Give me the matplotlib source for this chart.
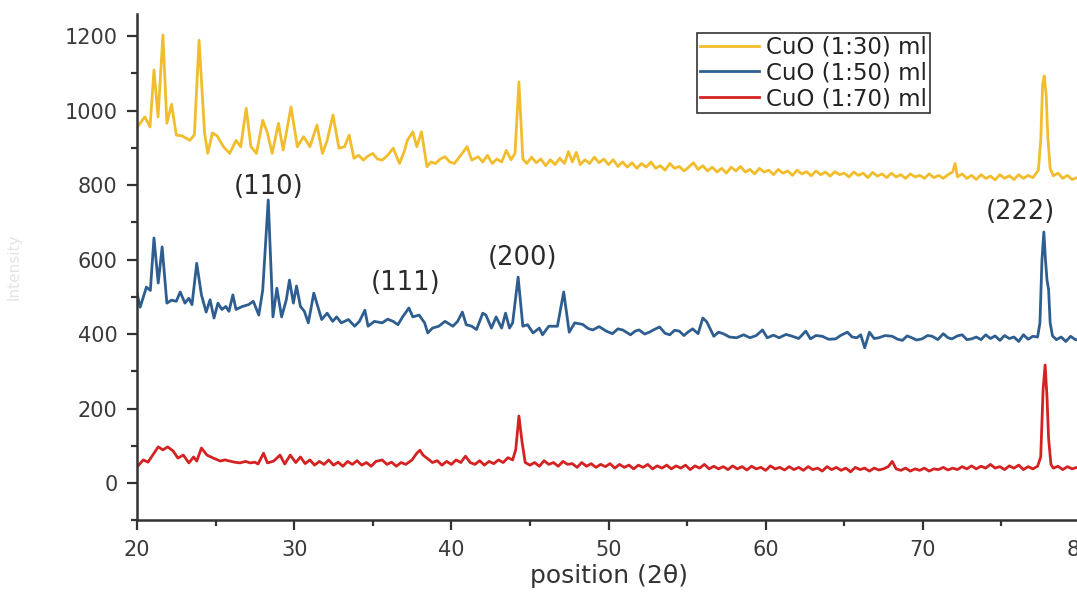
import matplotlib
matplotlib.use("Agg")
import matplotlib.pyplot as plt
from matplotlib.ticker import MultipleLocator

plt.rcParams['font.family'] = ['DejaVu Sans']

# ---------------- data ----------------
x_130 = [20.0, 20.5, 20.83, 21.08, 21.34, 21.65, 21.9, 22.2, 22.5, 22.87, 23.37, 23.65, 23.95, 24.3, 24.5,
         24.8, 25.1, 25.5, 25.9, 26.3, 26.6, 26.95, 27.25, 27.6, 28.0, 28.3, 28.6, 29.0, 29.3, 29.8,
         30.2, 30.6, 31.0, 31.45, 31.8, 32.1, 32.47, 32.85, 33.2, 33.5, 33.8, 34.1, 34.4, 34.7, 35.0,
         35.3, 35.6, 35.95, 36.3, 36.7, 37.0, 37.2, 37.55, 37.8, 38.1, 38.45, 38.7, 39.0, 39.3, 39.6,
         39.9, 40.2, 40.6, 41.0, 41.3, 41.7, 42.0, 42.3, 42.6, 42.9, 43.2, 43.5, 43.8, 44.05, 44.3,
         44.55, 44.8, 45.1, 45.4, 45.7, 46.0, 46.3, 46.6, 46.9, 47.2, 47.45, 47.7, 47.95, 48.2, 48.5,
         48.8, 49.1, 49.4, 49.7, 50.0, 50.3, 50.6, 50.9, 51.2, 51.5, 51.8, 52.1, 52.4, 52.7, 53.0,
         53.3, 53.6, 53.9, 54.2, 54.5, 54.8, 55.1, 55.4, 55.7, 56.0, 56.3, 56.6, 56.9, 57.2, 57.5,
         57.8, 58.1, 58.4, 58.7, 59.0, 59.3, 59.6, 59.9, 60.2, 60.5, 60.8, 61.1, 61.4, 61.7, 62.0,
         62.3, 62.6, 62.9, 63.2, 63.5, 63.8, 64.1, 64.4, 64.7, 65.0, 65.3, 65.6, 65.9, 66.2, 66.5,
         66.8, 67.1, 67.4, 67.7, 68.0, 68.3, 68.6, 68.9, 69.2, 69.5, 69.8, 70.1, 70.4, 70.7, 71.0,
         71.3, 71.6, 71.9, 72.05, 72.2, 72.5, 72.8, 73.1, 73.4, 73.7, 74.0, 74.3, 74.6, 74.9, 75.2,
         75.5, 75.8, 76.1, 76.4, 76.7, 77.0, 77.35, 77.5, 77.62, 77.72, 77.85, 77.95, 78.1, 78.3,
         78.6, 78.9, 79.2, 79.5, 79.8, 80.0]
y_130 = [955, 983, 956, 1109, 983, 1203, 966, 1017, 934, 932, 920, 935, 1189, 940, 885,
         940, 932, 903, 885, 920, 903, 1006, 903, 885, 974, 940, 885, 966, 894, 1010,
         903, 930, 903, 961, 885, 920, 988, 899, 903, 934, 872, 880, 867, 878, 885,
         870, 867, 880, 899, 858, 890, 920, 943, 903, 943, 849, 862, 858, 870, 876,
         862, 858, 880, 903, 867, 876, 862, 880, 858, 870, 862, 893, 868, 885, 1077,
         870, 858, 875, 860, 870, 852, 868, 855, 872, 858, 890, 862, 888, 855, 868,
         858, 875, 860, 870, 855, 868, 850, 862, 848, 860, 845, 858, 848, 862, 845,
         852, 840, 858, 845, 850, 838, 848, 860, 842, 852, 838, 848, 835, 845, 832,
         848, 838, 850, 835, 842, 830, 845, 835, 840, 828, 842, 832, 838, 826, 840,
         830, 836, 825, 838, 828, 835, 824, 836, 828, 832, 822, 835, 826, 832, 820,
         834, 824, 830, 820, 832, 822, 828, 818, 830, 822, 826, 818, 830, 820, 826,
         818, 828, 835, 858, 822, 830, 818, 826, 815, 828, 818, 824, 814, 828, 818,
         825, 815, 828, 818, 826, 820, 840, 920, 1070, 1093, 1040, 930, 845, 825,
         832, 818, 826, 815, 820, 815]

x_150 = [20.0, 20.2, 20.6, 20.85, 21.08, 21.35, 21.6, 21.9, 22.2, 22.5, 22.75, 23.05, 23.3, 23.5, 23.8,
         24.1, 24.4, 24.65, 24.9, 25.15, 25.4, 25.65, 25.85, 26.1, 26.3, 26.7, 27.1, 27.4, 27.75, 28.0,
         28.35, 28.65, 28.9, 29.2, 29.5, 29.7, 29.95, 30.15, 30.4, 30.65, 30.9, 31.25, 31.5, 31.75, 32.1,
         32.45, 32.7, 33.0, 33.45, 33.85, 34.15, 34.5, 34.7, 35.1, 35.6, 35.95, 36.3, 36.6, 36.9, 37.3,
         37.55, 37.95, 38.3, 38.5, 38.8, 39.2, 39.6, 40.1, 40.4, 40.7, 40.95, 41.3, 41.6, 42.0, 42.2,
         42.55, 42.85, 43.2, 43.45, 43.7, 43.9, 44.25, 44.55, 44.85, 45.2, 45.6, 45.8, 46.2, 46.75, 47.15,
         47.5, 47.85, 48.35, 48.7, 49.0, 49.4, 49.85, 50.25, 50.6, 50.9, 51.4, 51.7, 51.95, 52.3, 52.6,
         52.9, 53.25, 53.6, 53.9, 54.2, 54.5, 54.8, 55.05, 55.35, 55.7, 56.0, 56.25, 56.7, 57.0, 57.3,
         57.7, 58.15, 58.6, 59.0, 59.4, 59.8, 60.1, 60.5, 60.85, 61.3, 61.7, 62.1, 62.55, 62.85, 63.2,
         63.6, 64.0, 64.45, 64.8, 65.2, 65.5, 65.8, 66.05, 66.3, 66.6, 66.9, 67.2, 67.6, 68.05, 68.4,
         68.7, 69.0, 69.3, 69.6, 69.95, 70.3, 70.6, 70.95, 71.3, 71.6, 71.85, 72.2, 72.5, 72.8, 73.1,
         73.4, 73.7, 74.0, 74.3, 74.6, 74.9, 75.2, 75.5, 75.8, 76.1, 76.4, 76.7, 77.0, 77.3, 77.45,
         77.58, 77.7, 77.8, 77.9, 78.0, 78.1, 78.25, 78.5, 78.8, 79.1, 79.4, 79.7, 80.0]
y_150 = [510, 472, 526, 517, 658, 537, 634, 483, 491, 488, 513, 483, 496, 479, 590,
         505, 459, 492, 443, 483, 466, 474, 461, 505, 466, 474, 479, 488, 451, 518,
         760, 446, 523, 446, 492, 545, 483, 529, 474, 461, 430, 510, 474, 439, 456,
         434, 446, 430, 439, 421, 434, 464, 421, 434, 430, 440, 434, 425, 446, 470,
         446, 451, 430, 403, 416, 421, 434, 421, 434, 459, 425, 421, 412, 456, 451,
         416, 446, 416, 456, 416, 430, 553, 421, 425, 403, 416, 398, 421, 421, 513,
         405, 430, 426, 415, 411, 420, 408, 401, 414, 411, 398, 408, 411, 400, 405,
         412, 419, 402, 398, 410, 408, 396, 405, 414, 401, 443, 433, 394, 405, 401,
         392, 390, 398, 390, 396, 411, 390, 397, 390, 399, 394, 388, 408, 387, 396,
         394, 386, 387, 397, 405, 392, 390, 398, 363, 405, 388, 390, 396, 394, 386,
         383, 395, 390, 384, 387, 396, 394, 385, 401, 390, 387, 395, 398, 385, 387,
         392, 385, 398, 388, 395, 383, 396, 388, 392, 380, 398, 386, 394, 392, 430,
         600, 674, 600, 545, 520, 430, 395, 385, 392, 380, 394, 385, 384]

x_170 = [20.0, 20.4, 20.7, 21.0, 21.35, 21.65, 21.95, 22.3, 22.6, 22.95, 23.3, 23.6, 23.8, 24.1, 24.45,
         24.85, 25.3, 25.6, 25.9, 26.2, 26.55, 26.9, 27.2, 27.5, 27.7, 28.05, 28.3, 28.7, 29.1, 29.4,
         29.75, 30.1, 30.4, 30.7, 31.0, 31.3, 31.6, 31.9, 32.2, 32.5, 32.8, 33.1, 33.4, 33.7, 34.0,
         34.3, 34.6, 34.9, 35.2, 35.6, 35.9, 36.2, 36.5, 36.8, 37.1, 37.5, 37.8, 38.0, 38.2, 38.5,
         38.8, 39.1, 39.4, 39.7, 40.0, 40.3, 40.6, 40.9, 41.2, 41.5, 41.8, 42.1, 42.4, 42.7, 43.0,
         43.3, 43.6, 43.9, 44.1, 44.3, 44.5, 44.7, 45.0, 45.3, 45.6, 45.9, 46.2, 46.5, 46.8, 47.1,
         47.4, 47.7, 48.0, 48.3, 48.6, 48.9, 49.2, 49.5, 49.8, 50.1, 50.4, 50.7, 51.0, 51.3, 51.6,
         51.9, 52.2, 52.5, 52.8, 53.1, 53.4, 53.7, 54.0, 54.3, 54.6, 54.9, 55.2, 55.5, 55.8, 56.1,
         56.4, 56.7, 57.0, 57.3, 57.6, 57.9, 58.2, 58.5, 58.8, 59.1, 59.4, 59.7, 60.0, 60.3, 60.6,
         60.9, 61.2, 61.5, 61.8, 62.1, 62.4, 62.7, 63.0, 63.3, 63.6, 63.9, 64.2, 64.5, 64.8, 65.1,
         65.4, 65.7, 66.0, 66.3, 66.6, 66.9, 67.2, 67.5, 67.8, 68.05, 68.3, 68.6, 68.9, 69.2, 69.5,
         69.8, 70.1, 70.4, 70.7, 71.0, 71.3, 71.6, 71.9, 72.2, 72.5, 72.8, 73.1, 73.4, 73.7, 74.0,
         74.3, 74.6, 74.9, 75.2, 75.5, 75.8, 76.1, 76.4, 76.7, 77.0, 77.3, 77.5, 77.65, 77.78, 77.9,
         78.0, 78.15, 78.3, 78.6, 78.9, 79.2, 79.5, 79.8, 80.0]
y_170 = [43, 62, 56, 75, 97, 89, 97, 86, 67, 75, 54, 70, 59, 94, 75,
         67, 59, 62, 59, 56, 54, 58, 54, 56, 51, 80, 54, 59, 75, 51,
         75, 55, 70, 52, 62, 48, 58, 50, 62, 48, 56, 45, 58, 50, 60,
         48, 55, 45, 58, 62, 50, 56, 45, 55, 50, 62, 80, 88, 75, 65,
         55, 60, 48, 58, 50, 62, 55, 72, 55, 50, 60, 48, 58, 52, 62,
         55, 68, 62, 90, 180, 110, 55, 48, 55, 45, 60, 50, 55, 45, 58,
         50, 52, 42, 55, 45, 52, 42, 50, 44, 52, 40, 50, 42, 48, 38,
         48, 42, 50, 38, 46, 40, 48, 38, 46, 40, 48, 36, 46, 40, 50,
         38, 45, 38, 44, 36, 46, 38, 44, 35, 45, 38, 42, 34, 46, 38,
         42, 35, 44, 36, 42, 34, 44, 36, 40, 32, 44, 36, 42, 34, 40,
         30, 42, 36, 40, 32, 40, 35, 38, 44, 58, 38, 34, 40, 32, 38,
         34, 40, 32, 38, 36, 42, 35, 40, 36, 44, 38, 46, 38, 45, 40,
         50, 40, 44, 36, 46, 40, 48, 36, 44, 38, 45, 70, 250, 317, 230,
         120, 50, 40, 45, 36, 44, 38, 42, 40]

series_labels = ['CuO (1:30) ml', 'CuO (1:50) ml', 'CuO (1:70) ml']
series_colors = ['#F2BD2C', '#2E5E90', '#D42222']

peak_labels = ['(110)', '(111)', '(200)', '(222)']
peak_x = [28.35, 37.1, 44.5, 76.2]
peak_y = [795, 537, 604, 727]

x_ticks = [20, 30, 40, 50, 60, 70, 80]
y_ticks = [0, 200, 400, 600, 800, 1000, 1200]

# ---------------- figure ----------------
fig = plt.figure(figsize=(10.77, 5.98), dpi=100)
ax = fig.add_axes([0.1272, 0.130, 0.8756, 0.847])

for xs, ys, lab, col in zip([x_130, x_150, x_170], [y_130, y_150, y_170],
                            series_labels, series_colors):
    ax.plot(xs, ys, color=col, lw=2.0, label=lab, solid_joinstyle='round')

for lab, px, py in zip(peak_labels, peak_x, peak_y):
    ax.text(px, py, lab, ha='center', va='center', fontsize=18.5, color='#2b2b2b')

ax.set_xlim(20, 80)
ax.set_ylim(-100, 1260)
ax.set_xticks(x_ticks)
ax.set_yticks(y_ticks)
ax.xaxis.set_minor_locator(MultipleLocator(5))
ax.yaxis.set_minor_locator(MultipleLocator(100))
ax.tick_params(which='major', direction='out', length=7, width=1.6, color='#333333',
               labelsize=15, labelcolor='#3a3a3a', pad=7)
ax.tick_params(which='minor', direction='out', length=4, width=1.6, color='#333333')
ax.tick_params(axis='y', which='both', right=False)
ax.tick_params(axis='x', which='both', top=False)

for s in ['top', 'right']:
    ax.spines[s].set_visible(False)
for s in ['left', 'bottom']:
    ax.spines[s].set_linewidth(1.8)
    ax.spines[s].set_color('#333333')

ax.set_xlabel('position (2θ)', fontsize=18, color='#333333', labelpad=3)
ax.set_ylabel('Intensity', fontsize=11, color='#e4e4e4')
ax.yaxis.set_label_coords(-0.122, 0.5)

leg = ax.legend(loc='upper left', bbox_to_anchor=(0.594, 0.962), fontsize=16.5,
                frameon=True, fancybox=False, edgecolor='#333333', framealpha=1,
                handlelength=2.6, handletextpad=0.3, labelspacing=0.12,
                borderpad=0.12, borderaxespad=0)
leg.get_frame().set_linewidth(1.2)
for t in leg.get_texts():
    t.set_color('#222222')

fig.savefig('out.png', dpi=100)
